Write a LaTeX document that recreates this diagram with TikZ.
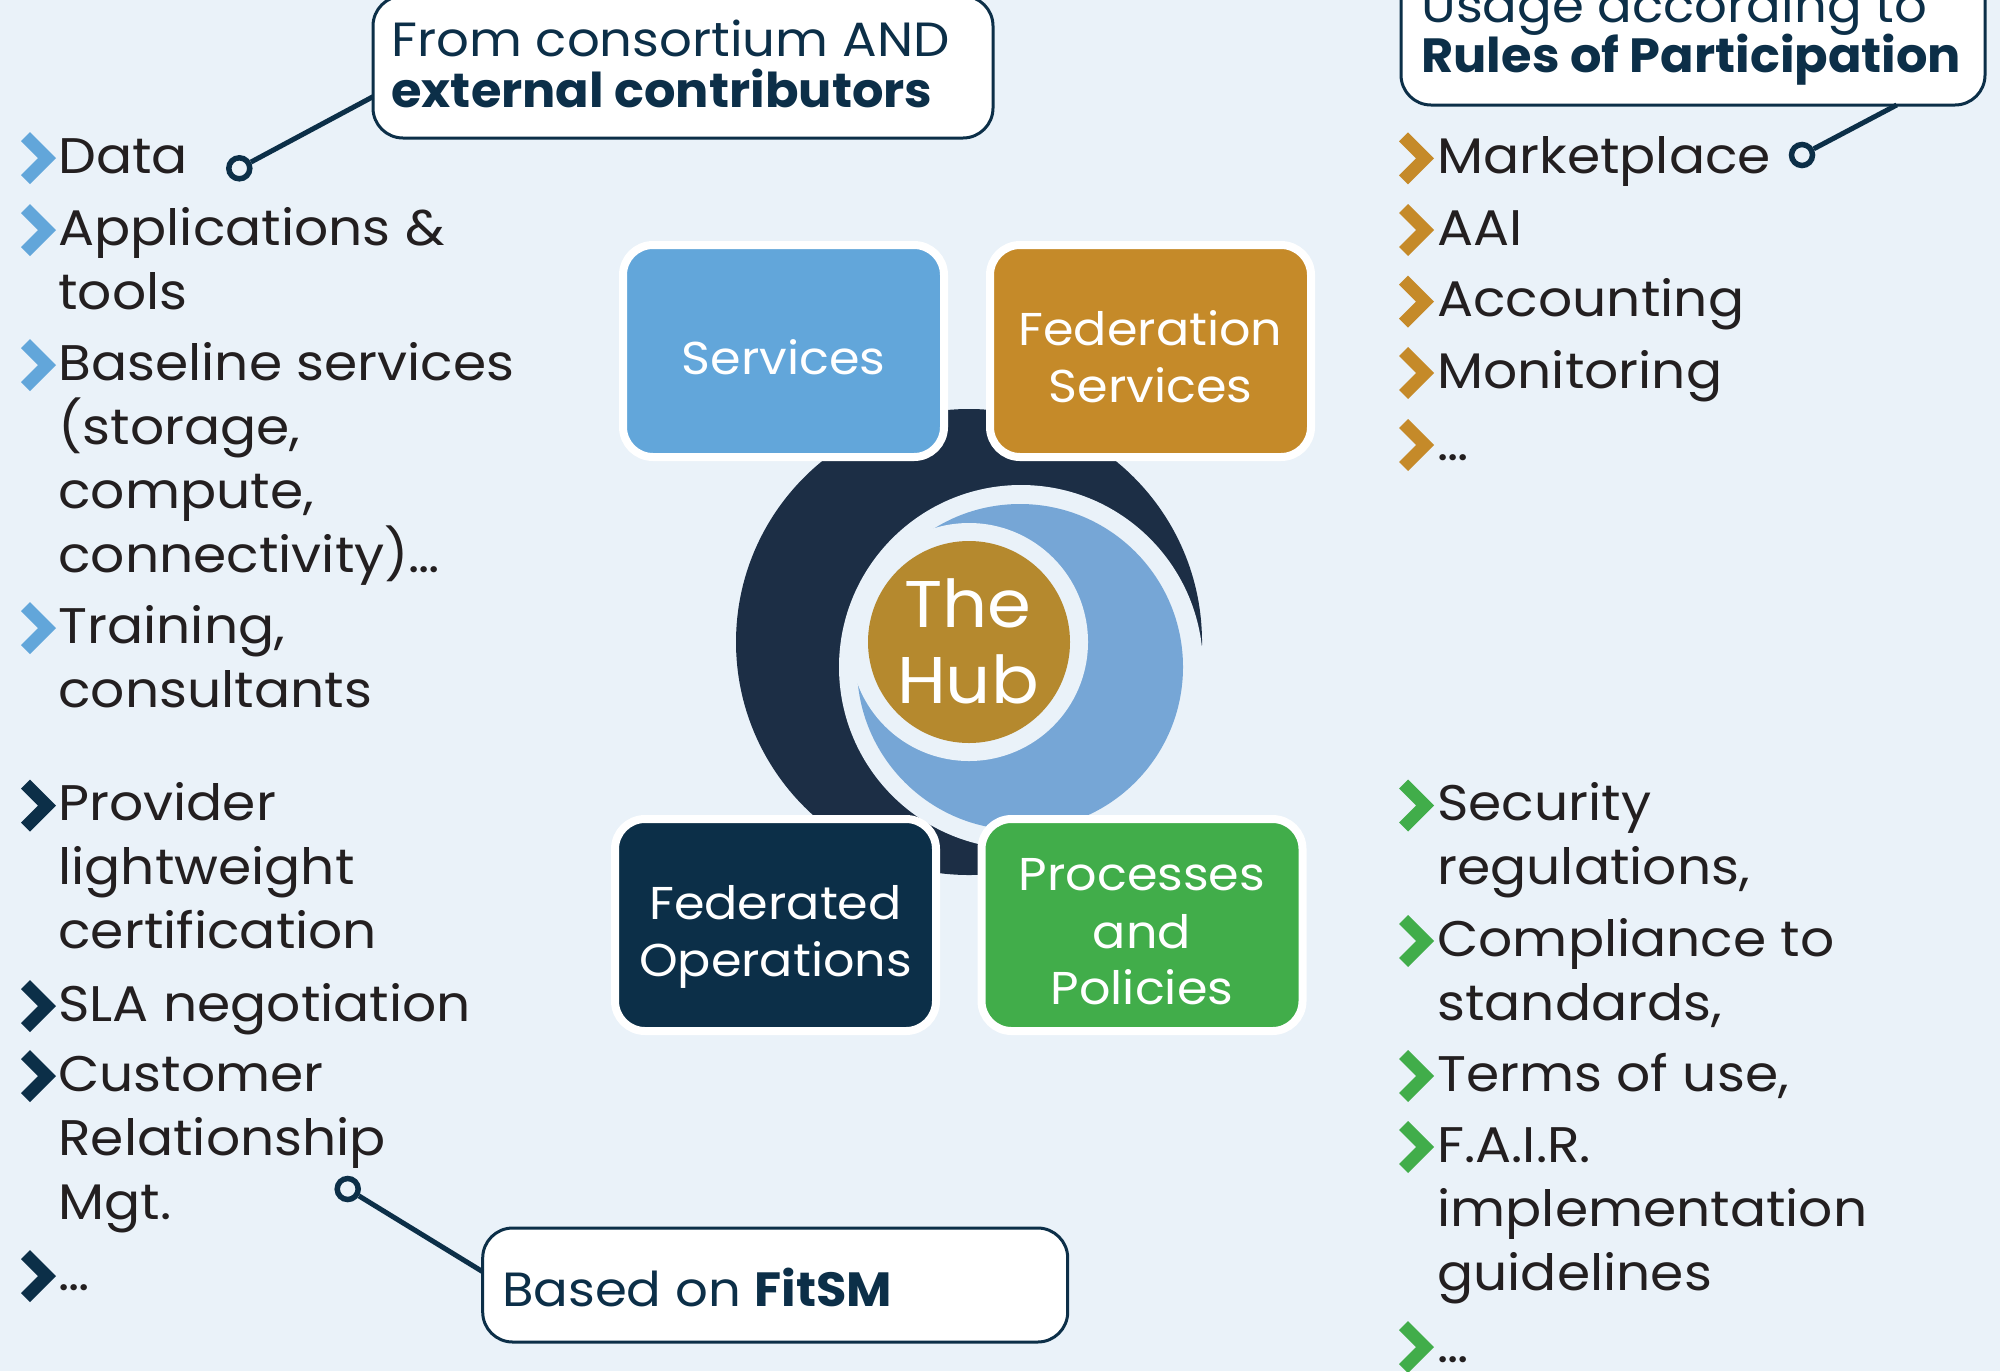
\documentclass[tikz,border=0pt]{standalone}
\usepackage{fontspec}
\setmainfont{Poppins}[FakeStretch=1.07, BoldFeatures={FakeStretch=1.03}]
\definecolor{bg}{HTML}{EAF2F9}
\definecolor{ringdark}{HTML}{1C2E45}
\definecolor{ringblue}{HTML}{76A6D6}
\definecolor{hubgold}{HTML}{B5892E}
\definecolor{svcblue}{HTML}{62A6DA}
\definecolor{fedorange}{HTML}{C58A29}
\definecolor{navy}{HTML}{0C2F48}
\definecolor{procgreen}{HTML}{41AD4A}
\definecolor{itemtext}{HTML}{231F20}
\tikzset{
  chev/.pic={\fill[#1] (0,-17) -- (9,-26) -- (35,0) -- (9,26) -- (0,17) -- (17,0) -- cycle;},
  item/.style={anchor=base west, inner sep=0pt, font=\fontsize{25}{30}\selectfont, text=itemtext},
  hubbox/.style={draw=white, line width=4pt, rounded corners=15pt, minimum width=160.5pt, minimum height=106pt, inner sep=0pt},
  boxtxt/.style={anchor=base, inner sep=0pt, font=\fontsize{23}{28}\selectfont, text=white},
  callbox/.style={draw=navy, line width=1.5pt, fill=white, rounded corners=15pt, inner sep=0pt},
  calltxt/.style={anchor=base west, inner sep=0pt, font=\fontsize{24}{29}\selectfont, text=navy},
  pin/.style={circle, draw=navy, line width=2.75pt, fill=bg, minimum size=10.5pt, inner sep=0pt},
  leader/.style={draw=navy, line width=2.5pt},
}
\begin{document}
\begin{tikzpicture}[x=0.5pt, y=-0.5pt]
\fill[bg] (0,0) rectangle (2000,1371);
\useasboundingbox (0,0) rectangle (2000,1371);

% central hub graphic
\fill[ringdark] (969,642) circle (233);
\fill[bg] (1021,667) circle (182);
\fill[ringblue] (1020,667) circle (163);
\fill[bg] (969,642) circle (119);
\node[circle, fill=hubgold, minimum size=101pt, inner sep=0pt] (hub) at (969,642) {};
\node[anchor=base, inner sep=0pt, font=\fontsize{33}{40}\selectfont, text=white] (hubt1) at (968,627) {The};
\node[anchor=base, inner sep=0pt, font=\fontsize{33}{40}\selectfont, text=white] (hubt2) at (968,703) {Hub};

% four boxes
\node[hubbox, fill=svcblue] (svc) at (783.5,351) {};
\node[boxtxt] (svct) at (783.5,374) {Services};
\node[hubbox, fill=fedorange] (fed) at (1150.5,351) {};
\node[boxtxt] (fedt1) at (1150.5,345) {Federation};
\node[boxtxt] (fedt2) at (1150.5,402.5) {Services};
\node[hubbox, fill=navy] (ops) at (775.5,925) {};
\node[boxtxt] (opst1) at (775.5,919.5) {Federated};
\node[boxtxt] (opst2) at (775.5,976.5) {Operations};
\node[hubbox, fill=procgreen] (proc) at (1142,925) {};
\node[boxtxt] (proct1) at (1142,890.7) {Processes};
\node[boxtxt] (proct2) at (1142,948.3) {and};
\node[boxtxt] (proct3) at (1142,1004) {Policies};

% left list 1
\pic at (21,158) {chev=svcblue};
\node[item] (l1a) at (58,173) {Data};
\pic at (21,230) {chev=svcblue};
\node[item] (l1b) at (58,245) {Applications \&};
\node[item] (l1b2) at (58,309) {tools};
\pic at (21,365) {chev=svcblue};
\node[item] (l1c) at (58,380) {Baseline services};
\node[item] (l1c2) at (58,444) {(storage,};
\node[item] (l1c3) at (58,508) {compute,};
\node[item] (l1c4) at (58,572) {connectivity)…};
\pic at (21,628) {chev=svcblue};
\node[item] (l1d) at (58,643) {Training,};
\node[item] (l1d2) at (58,707) {consultants};

% left list 2
\pic at (21,805.5) {chev=navy};
\node[item] (l2a) at (58,820.5) {Provider};
\node[item] (l2a2) at (58,884.5) {lightweight};
\node[item] (l2a3) at (58,948.5) {certification};
\pic at (21,1006) {chev=navy};
\node[item] (l2b) at (58,1021) {SLA negotiation};
\pic at (21,1076) {chev=navy};
\node[item] (l2c) at (58,1091) {Customer};
\node[item] (l2c2) at (58,1155) {Relationship};
\node[item] (l2c3) at (58,1219) {Mgt.};
\pic at (21,1276) {chev=navy};
\node[item] (l2d) at (58,1290.6) {…};

% right list 1
\pic at (1399,158.3) {chev=fedorange};
\node[item] (r1a) at (1437,173.3) {Marketplace};
\pic at (1399,230) {chev=fedorange};
\node[item] (r1b) at (1437,245) {AAI};
\pic at (1399,301.7) {chev=fedorange};
\node[item] (r1c) at (1437,316.7) {Accounting};
\pic at (1399,373) {chev=fedorange};
\node[item] (r1d) at (1437,388) {Monitoring};
\pic at (1399,445) {chev=fedorange};
\node[item] (r1e) at (1437,460) {…};

% right list 2
\pic at (1399,805.5) {chev=procgreen};
\node[item] (r2a) at (1437,820.5) {Security};
\node[item] (r2a2) at (1437,884.5) {regulations,};
\pic at (1399,941) {chev=procgreen};
\node[item] (r2b) at (1437,956) {Compliance to};
\node[item] (r2b2) at (1437,1020) {standards,};
\pic at (1399,1076) {chev=procgreen};
\node[item] (r2c) at (1437,1091) {Terms of use,};
\pic at (1399,1147) {chev=procgreen};
\node[item] (r2d) at (1437,1162) {F.A.I.R.};
\node[item] (r2d2) at (1437,1226) {implementation};
\node[item] (r2d3) at (1437,1290) {guidelines};
\pic at (1399,1347) {chev=procgreen};
\node[item] (r2e) at (1437,1362) {…};

% callouts
\node[callbox, minimum width=310pt, minimum height=71pt] (cTL) at (683,67) {};
\node[calltxt] (cTLa) at (391,56.7) {From consortium AND};
\node[calltxt, font=\fontsize{24}{29}\selectfont\bfseries] (cTLb) at (391,107.3) {external contributors};
\node[pin] (pTL) at (239.3,168.3) {};
\coordinate (aTL) at (373,96.7);
\draw[leader] (pTL) -- (aTL);

\node[callbox, minimum width=292pt, minimum height=72.5pt] (cTR) at (1693,32.5) {};
\node[calltxt] (cTRa) at (1421,22.7) {Usage according to};
\node[calltxt, font=\fontsize{24}{29}\selectfont\bfseries] (cTRb) at (1421,72.7) {Rules of Participation};
\node[pin] (pTR) at (1802,155) {};
\coordinate (aTR) at (1896.7,105);
\draw[leader] (pTR) -- (aTR);

\node[callbox, minimum width=292.5pt, minimum height=57pt] (cB) at (775.2,1285) {};
\node[calltxt] (cBa) at (501.6,1306) {Based on \textbf{FitSM}};
\node[pin] (pB) at (347.7,1189) {};
\coordinate (aB) at (482.7,1271.7);
\draw[leader] (pB) -- (aB);
\end{tikzpicture}
\end{document}
